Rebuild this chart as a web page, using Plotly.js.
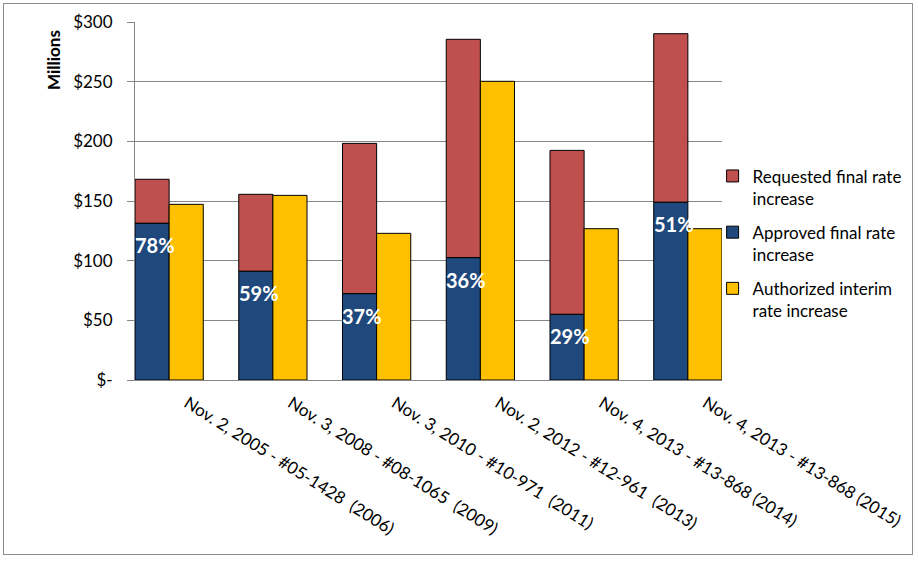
<!DOCTYPE html>
<html>
<head>
<meta charset="utf-8">
<script src="https://cdn.plot.ly/plotly-3.0.1.min.js"></script>
<style>
  html, body { margin: 0; padding: 0; background: #fff; }
  #frame { position: absolute; left: 3px; top: 3px; width: 908px; height: 550px; border: 1px solid #8c8c8c; }
  #chart { width: 908px; height: 550px; }
</style>
</head>
<body>
<div id="frame"><div id="chart"></div></div>
<script>
const categories = [
  "Nov. 2, 2005 - #05-1428  (2006)",
  "Nov. 3, 2008 - #08-1065  (2009)",
  "Nov. 3, 2010 - #10-971  (2011)",
  "Nov. 2, 2012 - #12-961  (2013)",
  "Nov. 4, 2013 - #13-868 (2014)",
  "Nov. 4, 2013 - #13-868 (2015)"
];
const requested = [168.2, 155.6, 198.3, 285.5, 192.4, 290.2];
const approved  = [131.3, 91.1, 72.3, 102.5, 55.0, 148.9];
const interim   = [147.2, 154.7, 122.9, 250.3, 126.8, 126.8];
const pctLabels = ["78%", "59%", "37%", "36%", "29%", "51%"];
const yTickVals = [0, 50, 100, 150, 200, 250, 300];
const yTickText = ["$-", "$50", "$100", "$150", "$200", "$250", "$300"];

const W = 0.329;
const FONT = "Lato, 'Open Sans', sans-serif";
const line = {color: '#000000', width: 1};

const traces = [
  {
    type: 'bar', name: 'Requested final rate<br>increase',
    x: categories, y: requested.map((v, i) => v - approved[i]), base: approved,
    offset: -W, width: W, marker: {color: '#C0504D', line: line},
    legendgroup: 'a', hoverinfo: 'skip'
  },
  {
    type: 'bar', name: 'Approved final rate<br>increase',
    x: categories, y: approved, base: 0,
    offset: -W, width: W, marker: {color: '#1F497D', line: line},
    legendgroup: 'b', hoverinfo: 'skip'
  },
  {
    type: 'bar', name: 'Authorized interim<br>rate increase',
    x: categories, y: interim, base: 0,
    offset: 0, width: W, marker: {color: '#FFC000', line: line},
    legendgroup: 'c', hoverinfo: 'skip'
  }
];

const annotations = pctLabels.map((t, i) => ({
  x: i - W, y: approved[i], xref: 'x', yref: 'y',
  xanchor: 'left', yanchor: 'top', yshift: -8, xshift: -2,
  text: '<b>' + t + '</b>', showarrow: false,
  font: {family: FONT, size: 20, color: '#ffffff'}
}));
annotations.push({
  x: -0.138, y: 0.894, xref: 'paper', yref: 'paper',
  text: '<b>Millions</b>', textangle: -90, showarrow: false,
  xanchor: 'center', yanchor: 'middle',
  font: {family: FONT, size: 17, color: '#000000'}
});

const layout = {
  width: 908, height: 550,
  margin: {l: 131, r: 190, t: 18, b: 174, pad: 0, autoexpand: false},
  paper_bgcolor: '#ffffff', plot_bgcolor: '#ffffff',
  barmode: 'overlay',
  showlegend: true,
  legend: {
    x: 0.984, xanchor: 'left', y: 0.619, yanchor: 'top',
    font: {family: FONT, size: 17, color: '#000000'},
    valign: 'top', itemwidth: 30, tracegroupgap: 9,
    traceorder: 'grouped', bgcolor: 'rgba(0,0,0,0)'
  },
  xaxis: {
    type: 'category', range: [-W, categories.length - 1 + W],
    automargin: false,
    showgrid: false, showline: true, linecolor: '#868686', linewidth: 1,
    ticks: '', tickangle: 32, ticklabelshift: 18, ticklabelstandoff: 6,
    tickfont: {family: FONT, size: 17, color: '#000000'},
    fixedrange: true
  },
  yaxis: {
    range: [0, 300], tickvals: yTickVals, ticktext: yTickText,
    automargin: false,
    showgrid: true, gridcolor: '#868686', gridwidth: 1,
    showline: true, linecolor: '#868686', linewidth: 1,
    ticks: 'outside', ticklen: 7, tickcolor: '#868686',
    ticklabelstandoff: 11,
    zeroline: false,
    tickfont: {family: FONT, size: 17, color: '#000000'},
    fixedrange: true
  },
  annotations: annotations
};

Plotly.newPlot('chart', traces, layout, {displayModeBar: false, staticPlot: true});
</script>
</body>
</html>
